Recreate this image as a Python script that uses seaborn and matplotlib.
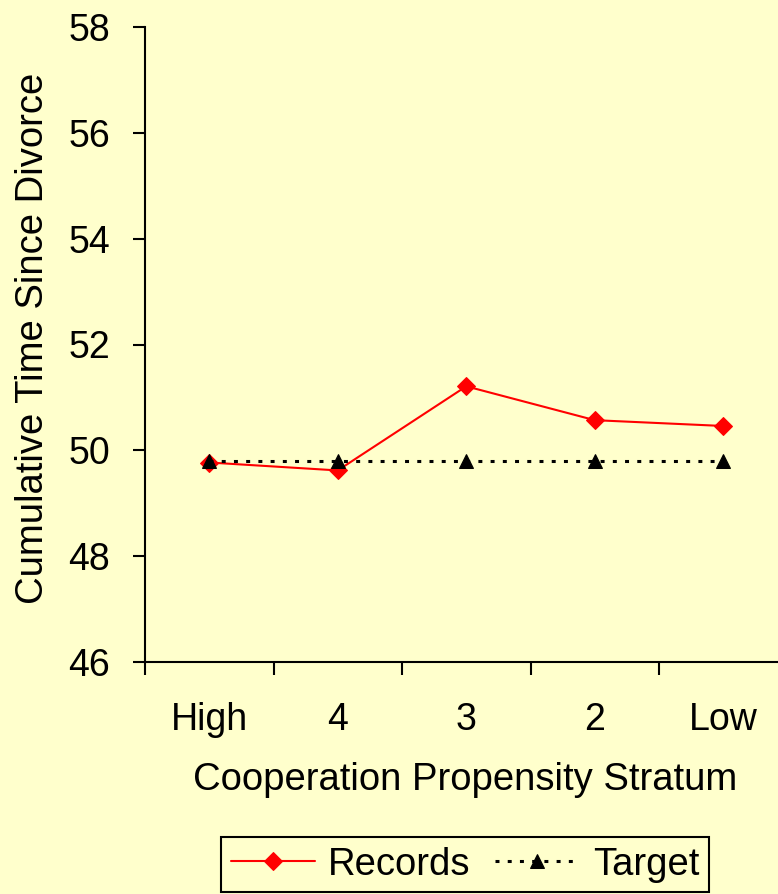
import matplotlib
matplotlib.use("Agg")
import matplotlib.pyplot as plt
import seaborn as sns
import pandas as pd

categories = ["High", "4", "3", "2", "Low"]
records = [49.77, 49.62, 51.21, 50.57, 50.46]
target = [49.80, 49.80, 49.80, 49.80, 49.80]
y_ticks = [46, 48, 50, 52, 54, 56, 58]

BG = "#FFFFCC"
sns.set_theme(style="white")
plt.rcParams["font.family"] = ["Liberation Sans", "DejaVu Sans"]
plt.rcParams["text.color"] = "black"
plt.rcParams["axes.labelcolor"] = "black"
plt.rcParams["xtick.color"] = "black"
plt.rcParams["ytick.color"] = "black"

fig = plt.figure(figsize=(7.78, 8.94), dpi=100, facecolor=BG)
W = 787.5 - 145
H = 662 - 27
ax = fig.add_axes([145 / 778, 1 - 662 / 894, W / 778, H / 894])
ax.set_facecolor(BG)

df = pd.DataFrame({"cat": categories, "Records": records, "Target": target})

sns.lineplot(data=df, x="cat", y="Records", ax=ax, color="#FF0000", lw=1.5,
             marker="D", markersize=9, markeredgecolor="#FF0000", sort=False, label="Records")
sns.lineplot(data=df, x="cat", y="Target", ax=ax, color="black", lw=2.2, linestyle=(0, (1.3, 2.7)),
             marker="^", markersize=10, markeredgecolor="black", sort=False, label="Target")

ax.set_xlim(-0.5, 4.5)
ax.set_ylim(46, 58)
ax.set_yticks(y_ticks)
ax.set_xticks([-0.5, 0.5, 1.5, 2.5, 3.5, 4.5])
ax.set_xticklabels([])
ax.set_xticks(range(5), minor=True)
ax.set_xticklabels(categories, minor=True)
ax.tick_params(axis="x", which="major", length=9, width=1.5, color="black", direction="out", bottom=True)
ax.tick_params(axis="x", which="minor", length=0, pad=29, labelsize=27, labelcolor="black")
ax.tick_params(axis="y", length=9, width=1.5, color="black", direction="out", left=True, pad=16,
               labelsize=27, labelcolor="black")

for s in ["top", "right"]:
    ax.spines[s].set_visible(False)
for s in ["left", "bottom"]:
    ax.spines[s].set_color("black")
    ax.spines[s].set_linewidth(1.5)

ax.set_xlabel("Cooperation Propensity Stratum", fontsize=27.5, color="black")
ax.set_ylabel("Cumulative Time Since Divorce", fontsize=27.5, color="black")
ax.xaxis.label.set_va("center")
ax.xaxis.set_label_coords((465 - 145) / W, -(780 - 662) / H)
ax.yaxis.label.set_va("center")
ax.yaxis.set_label_coords(-(145 - 33) / W, (662 - 338) / H)

ax.get_legend().remove()
h, l = ax.get_legend_handles_labels()
leg = fig.legend(h, l, loc="upper center", bbox_to_anchor=(465 / 778, 1 - 837 / 894), ncol=2,
                 fontsize=27.5, frameon=True, fancybox=False, edgecolor="black", facecolor=BG,
                 handlelength=2.2, handletextpad=0.35, columnspacing=0.65, borderpad=0.25,
                 borderaxespad=0)
leg.get_frame().set_linewidth(1.5)
leg.get_frame().set_alpha(1)
for t in leg.get_texts():
    t.set_color("black")

fig.savefig("out.png", dpi=100, facecolor=BG)
